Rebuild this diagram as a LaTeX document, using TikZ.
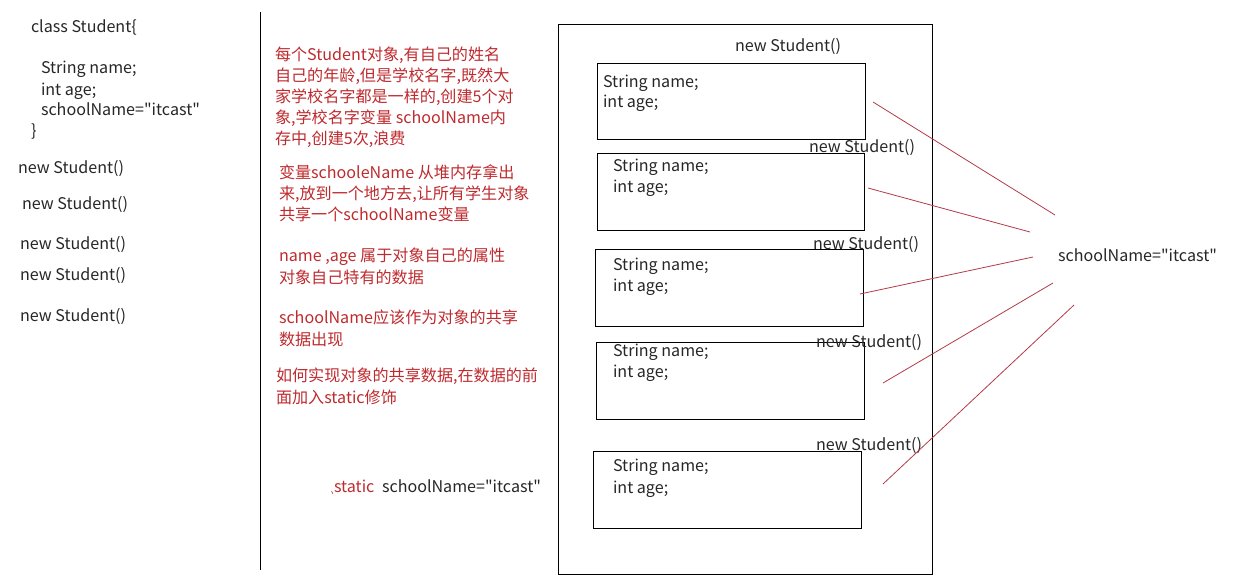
\documentclass[tikz,border=0pt]{standalone}
\usepackage{fontspec}
\setmainfont[Ligatures=TeXOff]{Noto Sans CJK SC}
\definecolor{rtext}{HTML}{BE2A2E}
\definecolor{rline}{HTML}{B23A48}
\tikzset{
  x=1pt,y=-1pt,
  txt/.style={anchor=base west,inner sep=0pt,outer sep=0pt,font=\fontsize{16.1}{22}\selectfont,text=black!85},
  note/.style={txt,text=rtext,align=left},
  objbox/.style={draw=black,line width=0.8pt,inner sep=0pt,outer sep=0pt},
  link/.style={draw=rline,line width=0.8pt},
  rule/.style={draw=black,line width=0.9pt}
}
\newcommand{\objbox}[5]{%
  \node[objbox,anchor=north west,minimum width=#3-#1,minimum height=#4-#2] (#5) at (#1,#2) {};}
\begin{document}
\begin{tikzpicture}
\useasboundingbox (0,0) rectangle (1240,582);
% left column
\node[txt] (c1) at (31,32) {class Student\{};
\node[txt] (c2) at (41,73) {String name;};
\node[txt] (c3) at (41,95) {int age;};
\node[txt] (c4) at (41,115) {schoolName="itcast"};
\node[txt] (c5) at (31,136) {\}};
\node[txt] (n1) at (18,173) {new Student()};
\node[txt] (n2) at (22,209) {new Student()};
\node[txt] (n3) at (20,249) {new Student()};
\node[txt] (n4) at (20,280.5) {new Student()};
\node[txt] (n5) at (20,321) {new Student()};
% divider
\coordinate (d1) at (260.5,12);
\coordinate (d2) at (260.5,570);
\draw[rule] (d1) -- (d2);
% notes
\node[note] (t1a) at (275,60) {每个Student对象,有自己的姓名};
\node[note] (t1b) at (275,81) {自己的年龄,但是学校名字,既然大};
\node[note] (t1c) at (275,102) {家学校名字都是一样的,创建5个对};
\node[note] (t1d) at (275,123) {象,学校名字变量 schoolName内};
\node[note] (t1e) at (275,144) {存中,创建5次,浪费};
\node[note] (t2a) at (279,178) {变量schooleName 从堆内存拿出};
\node[note] (t2b) at (279,199) {来,放到一个地方去,让所有学生对象};
\node[note] (t2c) at (279,220) {共享一个schoolName变量};
\node[note] (t3a) at (279,261) {name ,age 属于对象自己的属性};
\node[note] (t3b) at (279,283) {对象自己特有的数据};
\node[note] (t4a) at (279,323) {schoolName应该作为对象的共享};
\node[note] (t4b) at (279,345) {数据出现};
\node[note] (t5a) at (276,381) {如何实现对象的共享数据,在数据的前};
\node[note] (t5b) at (276,403) {面加入static修饰};
\node[note] (st) at (334,492) {static};
\node[txt] (sn) at (382,492) {schoolName="itcast"};
\coordinate (m1) at (331.5,491);
\coordinate (m2) at (333,494);
\draw[rtext,line width=0.5pt] (m1) -- (m2);
% heap
\objbox{558}{24}{932}{574}{heap}
\objbox{597.5}{63}{865}{139}{b1}
\objbox{597}{153}{864}{230}{b2}
\objbox{595}{249}{863}{326}{b3}
\objbox{596}{342}{864}{419}{b4}
\objbox{593}{451}{861}{528}{b5}
\node[txt] (h1) at (735,51) {new Student()};
\node[txt] (h2) at (809,152.5) {new Student()};
\node[txt] (h3) at (813,249) {new Student()};
\node[txt] (h4) at (816,347) {new Student()};
\node[txt] (h5) at (816,450) {new Student()};
\node[txt] (f1a) at (603,87) {String name;};
\node[txt] (f1b) at (603,107) {int age;};
\node[txt] (f2a) at (613,171) {String name;};
\node[txt] (f2b) at (613,192) {int age;};
\node[txt] (f3a) at (613,270) {String name;};
\node[txt] (f3b) at (613,291) {int age;};
\node[txt] (f4a) at (613,356.5) {String name;};
\node[txt] (f4b) at (613,377) {int age;};
\node[txt] (f5a) at (613,471.5) {String name;};
\node[txt] (f5b) at (613,493) {int age;};
% shared
\node[txt] (shared) at (1058,261) {schoolName="itcast"};
\coordinate (a1) at (873,102); \coordinate (e1) at (1055,215);
\coordinate (a2) at (868,188); \coordinate (e2) at (1030,232);
\coordinate (a3) at (860,294); \coordinate (e3) at (1033,257);
\coordinate (a4) at (883,383); \coordinate (e4) at (1053,283);
\coordinate (a5) at (883,484); \coordinate (e5) at (1074,305);
\draw[link] (a1) -- (e1);
\draw[link] (a2) -- (e2);
\draw[link] (a3) -- (e3);
\draw[link] (a4) -- (e4);
\draw[link] (a5) -- (e5);
\end{tikzpicture}
\end{document}
